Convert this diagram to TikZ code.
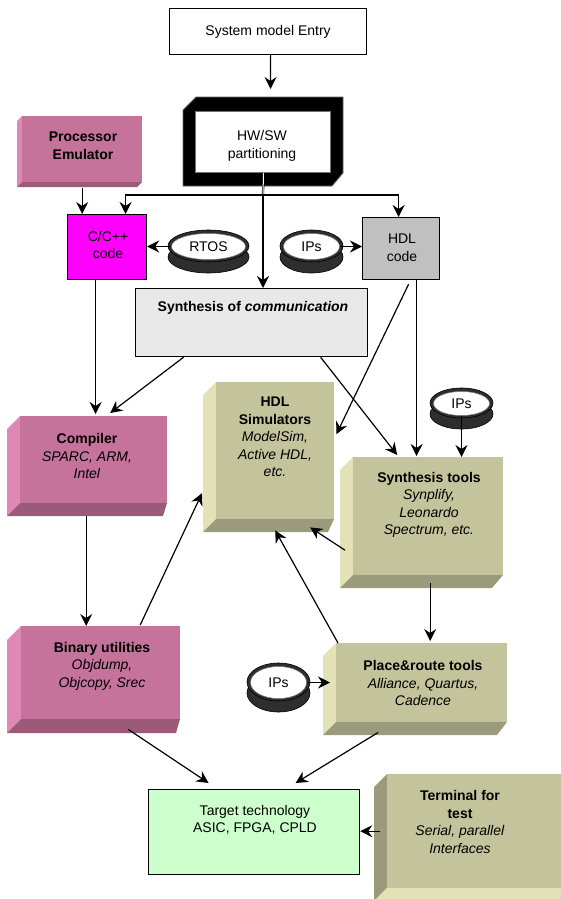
\documentclass[tikz,border=0pt]{standalone}
\usepackage{fontspec}
\setmainfont{Liberation Sans}
\usetikzlibrary{arrows.meta,shapes.geometric}
\definecolor{pkF}{HTML}{C5739A}
\definecolor{pkL}{HTML}{E088B5}
\definecolor{pkB}{HTML}{9C5A79}
\definecolor{olF}{HTML}{C4C49C}
\definecolor{olL}{HTML}{E2E2B6}
\definecolor{olB}{HTML}{9B9B7B}
\definecolor{tmF}{HTML}{C4C49C}
\definecolor{tmL}{HTML}{9B9B7B}
\definecolor{tmB}{HTML}{E2E2B6}
\definecolor{cppF}{HTML}{FF00FF}
\definecolor{hdlF}{HTML}{C0C0C0}
\definecolor{scF}{HTML}{E8E8E8}
\definecolor{tgtF}{HTML}{CCFFCC}
\newcommand\fs{\fontsize{14}{17.5}\selectfont}
\tikzset{
  conn/.style={line width=1.2pt},
  arr/.style={conn,-{Stealth[length=12pt,width=12pt,inset=4pt]}},
  plainbox/.style={draw=black, line width=1.2pt, inner sep=0pt, anchor=north west, font=\fs},
  txt/.style={align=center, inner sep=0pt, font=\fs},
  ringband/.style={fill=black!82, draw=black, line width=0.6pt},
}
% 3D box: name, x1, y1, x2, y2, left depth, bottom-right offset, colour set
\newcommand\tdbox[8]{%
  \fill[#8L] (#2,#3) -- (#2,#5) -- (#2-#6,#5+#6) -- (#2-#6,#3+#6) -- cycle;
  \fill[#8B] (#2,#5) -- (#4,#5) -- (#4-#7,#5+#6) -- (#2-#6,#5+#6) -- cycle;
  \node[fill=#8F, minimum width={#4-#2}, minimum height={#5-#3}, inner sep=0pt, anchor=north west] (#1) at (#2,#3) {};
}
% ring: name, cx, cy, rx, ry, text
\newcommand\ringnode[6]{%
  \filldraw[ringband] (#2,#3+11) ellipse [x radius=#4, y radius=#5];
  \filldraw[ringband] (#2,#3) ellipse [x radius=#4, y radius=#5];
  \node[ellipse, fill=white, draw=black!50, line width=0.5pt, minimum width={2*#4-7}, minimum height={2*#5-6}, inner sep=0pt, font=\fs] (#1) at (#2,#3+0.5) {#6};
}
\begin{document}
\begin{tikzpicture}[x=1pt,y=-1pt]
\useasboundingbox (0,0) rectangle (560,899);

% top box
\node[plainbox, minimum width=197, minimum height=46] (sys) at (169,8) {System model Entry};

% HW/SW partitioning frame
\filldraw[fill=black, draw=black!60, line width=0.8pt] (183,110) -- (196,97) -- (343,97) -- (343,173) -- (332,186) -- (183,186) -- cycle;
\node[fill=white, draw=black!55, line width=1pt, minimum width=135, minimum height=61, inner sep=0pt, anchor=north west] (hwsw) at (195,111) {};
\node[txt] (hwswt) at (262,146) {HW/SW\\partitioning};

% 3D boxes
\tdbox{pe}{22}{116}{142}{182}{5}{5}{pk}
\node[txt] (pet) at (83,146) {\textbf{Processor}\\\textbf{Emulator}};

\tdbox{comp}{20}{416}{167}{503}{13}{4}{pk}
\node[txt] (compt) at (87,456) {\textbf{Compiler}\\\textit{SPARC, ARM,}\\\textit{Intel}};

\tdbox{bu}{21}{626}{180}{719}{14}{4}{pk}
\node[txt] (but) at (102,666) {\textbf{Binary utilities}\\\textit{Objdump,}\\\textit{Objcopy, Srec}};

\tdbox{hsim}{216}{382}{334}{519}{13}{6}{ol}
\node[txt] (hsimt) at (275,437) {\textbf{HDL}\\\textbf{Simulators}\\\textit{ModelSim,}\\\textit{Active HDL,}\\\textit{etc.}};

\tdbox{st}{353}{457}{503}{575}{13}{11}{ol}
\node[txt] (stt) at (429,505) {\textbf{Synthesis tools}\\\textit{Synplify,}\\\textit{Leonardo}\\\textit{Spectrum, etc.}};

\tdbox{pr}{336}{643}{507}{722}{13}{10}{ol}
\node[txt] (prt) at (423,683) {\textbf{Place\&route tools}\\\textit{Alliance, Quartus,}\\\textit{Cadence}};

\tdbox{term}{387}{774}{575}{888}{13}{0}{tm}
\node[txt] (termt) at (460,822) {\textbf{Terminal for}\\\textbf{test}\\\textit{Serial, parallel}\\\textit{Interfaces}};

% flat boxes
\node[plainbox, fill=cppF, minimum width=79, minimum height=65] (cpp) at (67,214) {};
\node[txt] (cppt) at (108,245) {C/C++\\code};

\node[plainbox, fill=hdlF, minimum width=77, minimum height=62] (hdl) at (362,217) {};
\node[txt] (hdlt) at (402,248) {HDL\\code};

\node[plainbox, fill=scF, minimum width=232, minimum height=68] (sc) at (135,288) {};
\node[txt] (sct) at (253,308) {\textbf{Synthesis of \textit{communication}}};

\node[plainbox, fill=tgtF, minimum width=211, minimum height=85] (tgt) at (148,789) {};
\node[txt] (tgtt) at (255,820) {Target technology\\ASIC, FPGA, CPLD};

% rings
\ringnode{rtos}{208.5}{246}{40.5}{16}{RTOS}
\ringnode{ipsa}{311.5}{246}{31.5}{16}{IPs}
\ringnode{ipsb}{461.5}{403}{31.5}{15}{IPs}
\ringnode{ipsc}{278.5}{682}{31.5}{19}{IPs}

% connectors
\coordinate (j) at (263,195);
\draw[arr] ([xshift=2.5pt]sys.south) -- ([xshift=7.5pt,yshift=22pt]hwsw.north);
\draw[line width=0.6pt, double=white, double distance=1pt] ([xshift=0.5pt]hwsw.south) -- (j);
\draw[arr] (j) -| ([xshift=18.5pt]cpp.north);
\draw[arr] (j) -| ([xshift=-2.5pt]hdl.north);
\draw[arr] (j) -- (j |- sc.north);
\draw[arr, shorten <=6pt] (pe.south) -- (pe.south |- cpp.north);
\draw[arr] (rtos.west) -- (rtos.west -| cpp.east);
\draw[arr] (ipsa.east) -- (ipsa.east -| hdl.west);
\draw[arr, shorten >=2pt] ([xshift=-11.5pt]cpp.south) -- ([xshift=-11.5pt]cpp.south |- comp.north);
\draw[arr] ([xshift=-68pt]sc.south) -- ([xshift=16.5pt,yshift=3pt]comp.north);
\draw[arr] ([xshift=69pt]sc.south) -- ([xshift=-31pt,yshift=2pt]st.north);
\draw[arr] ([xshift=7.5pt,yshift=-4pt]hdl.south) -- ([xshift=2pt,yshift=16.5pt]hsim.east);
\draw[arr, shorten >=1pt] ([xshift=15.5pt]hdl.south) -- ([xshift=15.5pt]hdl.south |- st.north);
\draw[arr] (ipsb.south) -- (ipsb.south |- st.north);
\draw[arr] ([xshift=-8pt,yshift=-34pt]st.west) -- ([xshift=35pt,yshift=-8pt]hsim.south);
\draw[arr] ([xshift=2pt]pr.north west) -- ([yshift=-11pt]hsim.south);
\draw[arr] ([xshift=39.5pt,yshift=1pt]bu.north) -- ([xshift=-14pt,yshift=-42.5pt]hsim.west);
\draw[arr] ([xshift=-7.5pt,yshift=-13pt]comp.south) -- ([xshift=-7.5pt]comp.south |- bu.north);
\draw[arr, shorten >=2pt] ([xshift=2pt,yshift=-8pt]st.south) -- ([xshift=2pt]st.south |- pr.north);
\draw[arr, shorten >=6pt] (ipsc.east) -- (ipsc.east -| pr.west);
\draw[arr] ([xshift=27.5pt,yshift=-10pt]bu.south) -- ([xshift=-45.5pt,yshift=6pt]tgt.north);
\draw[arr] ([xshift=-43.5pt,yshift=-10pt]pr.south) -- ([xshift=41.5pt,yshift=6pt]tgt.north);
\draw[arr] ([xshift=-7pt]term.west) -- (term.west -| tgt.east);
\end{tikzpicture}
\end{document}
